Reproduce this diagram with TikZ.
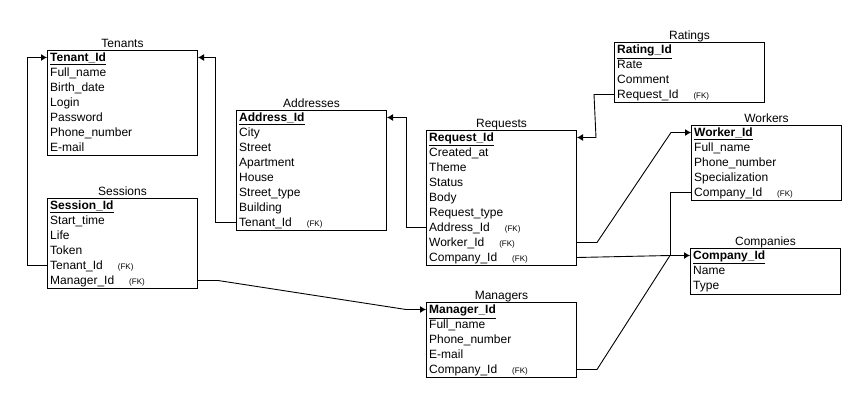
\documentclass[tikz,border=0pt]{standalone}
\usepackage{fontspec}
\setmainfont{Liberation Sans}
\usetikzlibrary{arrows.meta,calc,positioning}
\newcommand{\pk}[1]{\underline{\textbf{#1}}}
\newcommand{\fk}{\hspace{15pt}{\fontsize{8}{8}\selectfont(FK)}}
\tikzset{
  tbl/.style={draw,line width=1pt,minimum width=150pt,anchor=north west,inner sep=0pt},
  ttl/.style={anchor=base,inner sep=0pt,font=\fontsize{12}{14}\selectfont},
  row/.style={anchor=west,inner sep=0pt,text height=8.6pt,text depth=0pt,font=\fontsize{12}{14}\selectfont},
  rel/.style={line width=0.9pt,-{Latex[length=6pt,width=7pt]}},
}
\begin{document}
\begin{tikzpicture}[x=1pt,y=-1pt]
\useasboundingbox (0,0) rectangle (868,403);
% tables
\node[tbl,minimum height=105pt](tenants) at (47,50) {};
\node[ttl] at ([yshift=2.5pt]tenants.north) {Tenants};
\foreach \f [count=\i] in {\pk{Tenant\_Id},Full\_name,Birth\_date,Login,Password,Phone\_number,E-mail}
  \node[row](ten-\i) at ($(tenants.north west)+(3,15*\i-7.5)$) {\f};
\node[tbl,minimum height=90pt](sessions) at (47,198) {};
\node[ttl] at ([yshift=2.5pt]sessions.north) {Sessions};
\foreach \f [count=\i] in {\pk{Session\_Id},Start\_time,Life,Token,Tenant\_Id\fk,Manager\_Id\fk}
  \node[row](ses-\i) at ($(sessions.north west)+(3,15*\i-7.5)$) {\f};
\node[tbl,minimum height=120pt](addresses) at (236,110) {};
\node[ttl] at ([yshift=2.5pt]addresses.north) {Addresses};
\foreach \f [count=\i] in {\pk{Address\_Id},City,Street,Apartment,House,Street\_type,Building,Tenant\_Id\fk}
  \node[row](adr-\i) at ($(addresses.north west)+(3,15*\i-7.5)$) {\f};
\node[tbl,minimum height=135pt](requests) at (426,130) {};
\node[ttl] at ([yshift=2.5pt]requests.north) {Requests};
\foreach \f [count=\i] in {\pk{Request\_Id},Created\_at,Theme,Status,Body,Request\_type,Address\_Id\fk,Worker\_Id\fk,Company\_Id\fk}
  \node[row](req-\i) at ($(requests.north west)+(3,15*\i-7.5)$) {\f};
\node[tbl,minimum height=60pt](ratings) at (614,42) {};
\node[ttl] at ([yshift=2.5pt]ratings.north) {Ratings};
\foreach \f [count=\i] in {\pk{Rating\_Id},Rate,Comment,Request\_Id\fk}
  \node[row](rat-\i) at ($(ratings.north west)+(3,15*\i-7.5)$) {\f};
\node[tbl,minimum height=75pt](workers) at (691,125) {};
\node[ttl] at ([yshift=2.5pt]workers.north) {Workers};
\foreach \f [count=\i] in {\pk{Worker\_Id},Full\_name,Phone\_number,Specialization,Company\_Id\fk}
  \node[row](wrk-\i) at ($(workers.north west)+(3,15*\i-7.5)$) {\f};
\node[tbl,minimum height=46pt](companies) at (690,248) {};
\node[ttl] at ([yshift=2.5pt]companies.north) {Companies};
\foreach \f [count=\i] in {\pk{Company\_Id},Name,Type}
  \node[row](cmp-\i) at ($(companies.north west)+(3,15*\i-7.5)$) {\f};
\node[tbl,minimum height=75pt](managers) at (426,302) {};
\node[ttl] at ([yshift=2.5pt]managers.north) {Managers};
\foreach \f [count=\i] in {\pk{Manager\_Id},Full\_name,Phone\_number,E-mail,Company\_Id\fk}
  \node[row](mgr-\i) at ($(managers.north west)+(3,15*\i-7.5)$) {\f};
% relations
\draw[rel](sessions.west |- ses-5)--++(-20,0)|-(tenants.west |- ten-1);
\draw[rel](addresses.west |- adr-8)--++(-21,0)|-(tenants.east |- ten-1);
\draw[rel](requests.west |- req-7)--++(-20,0)|-(addresses.east |- adr-1);
\draw[rel](ratings.west |- rat-4)--++(-20,0)--($(requests.east |- req-1)+(19,0)$)--(requests.east |- req-1);
\draw[rel](requests.east |- req-8)--++(20,0)--($(workers.west |- wrk-1)+(-20,0)$)--(workers.west |- wrk-1);
\coordinate(cmp-in) at ($(companies.west |- cmp-1)+(-20,0)$);
\draw[rel](requests.east |- req-9)--(cmp-in)--(companies.west |- cmp-1);
\draw[line width=0.9pt](workers.west |- wrk-5)--++(-21,0)--(cmp-in);
\draw[line width=0.9pt](managers.east |- mgr-5)--++(20,0)--(cmp-in);
\draw[rel](sessions.east |- ses-6)--++(20,0)--($(managers.west |- mgr-1)+(-20,0)$)--(managers.west |- mgr-1);
\end{tikzpicture}
\end{document}
